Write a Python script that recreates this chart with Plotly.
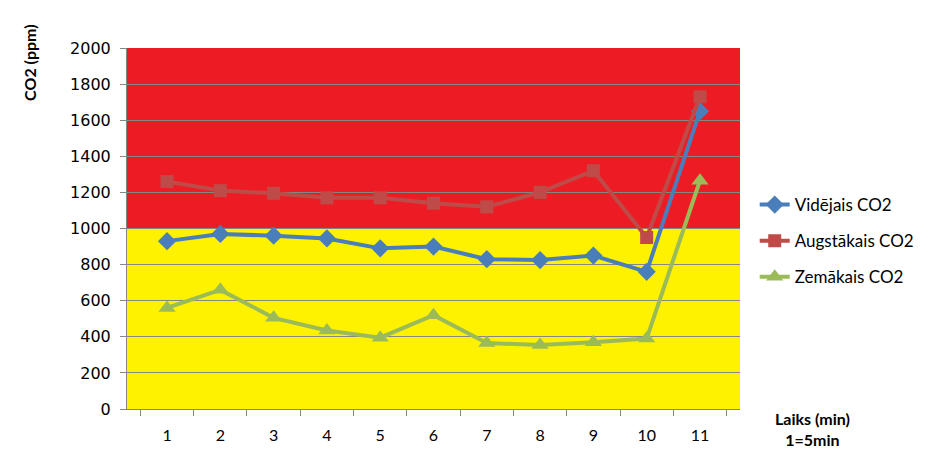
import plotly.graph_objects as go

# Laiks (min), 1 = 5 min
laiks = ["1", "2", "3", "4", "5", "6", "7", "8", "9", "10", "11"]

# CO2 (ppm)
videjais = [930, 970, 960, 945, 890, 900, 830, 825, 850, 760, 1650]
augstakais = [1260, 1210, 1195, 1170, 1170, 1140, 1120, 1200, 1320, 950, 1730]
zemakais = [560, 660, 505, 435, 395, 520, 365, 355, 370, 390, 1265]

# background zones
robeza = 1000
y_max = 2000

fig = go.Figure()

fig.add_trace(go.Scatter(
    x=laiks, y=videjais, name="Vidējais CO2", legendgroup="a",
    mode="lines+markers",
    line=dict(color="#4A7EBB", width=4),
    marker=dict(symbol="diamond", size=14, color="#4A7EBB"),
))
fig.add_trace(go.Scatter(
    x=laiks, y=augstakais, name="Augstākais CO2", legendgroup="b",
    mode="lines+markers",
    line=dict(color="#BE4B48", width=4),
    marker=dict(symbol="square", size=13, color="#BE4B48"),
))
fig.add_trace(go.Scatter(
    x=laiks, y=zemakais, name="Zemākais CO2", legendgroup="c",
    mode="lines+markers",
    line=dict(color="#9BBB59", width=4),
    marker=dict(symbol="triangle-up", size=15, color="#9BBB59"),
))

# red / yellow zones
fig.add_shape(type="rect", xref="paper", yref="y", x0=0, x1=1, y0=0, y1=robeza,
              fillcolor="#FFF200", line_width=0, layer="below")
fig.add_shape(type="rect", xref="paper", yref="y", x0=0, x1=1, y0=robeza, y1=y_max,
              fillcolor="#ED1C24", line_width=0, layer="below")

fig.add_annotation(text="<b>CO2 (ppm)</b>", xref="paper", yref="paper",
                   x=-0.158, y=1.07, xanchor="center", yanchor="top",
                   textangle=-90, showarrow=False,
                   font=dict(family="Lato", size=16, color="#000000"))
fig.add_annotation(text="<b>Laiks (min)<br>1=5min</b>", xref="paper", yref="paper",
                   x=1.118, y=0.005, xanchor="center", yanchor="top",
                   showarrow=False,
                   font=dict(family="Lato", size=16, color="#000000"))

fig.update_layout(
    width=943, height=452,
    margin=dict(l=119, r=211, t=40, b=51, autoexpand=False),
    paper_bgcolor="white",
    plot_bgcolor="white",
    showlegend=True,
    legend=dict(x=1.024, y=0.615, xanchor="left", yanchor="top",
                font=dict(family="Lato", size=17, color="#000000"),
                tracegroupgap=11, bgcolor="rgba(0,0,0,0)"),
)

fig.update_xaxes(
    type="category", tickson="boundaries", ticks="outside", ticklen=6,
    tickcolor="#868686", showline=True, linecolor="#868686", linewidth=1,
    showgrid=False, ticklabelstandoff=12,
    tickfont=dict(family="Lato", size=16, color="#000000"),
)
fig.update_yaxes(
    range=[0, y_max], dtick=200, ticks="outside", ticklen=6,
    tickcolor="#868686", showline=True, linecolor="#868686", linewidth=1,
    showgrid=True, gridcolor="#868686", gridwidth=1, zeroline=False,
    ticklabelstandoff=6,
    tickfont=dict(family="DejaVu Sans", size=16, color="#000000"),
)

fig.write_html("out.html")
